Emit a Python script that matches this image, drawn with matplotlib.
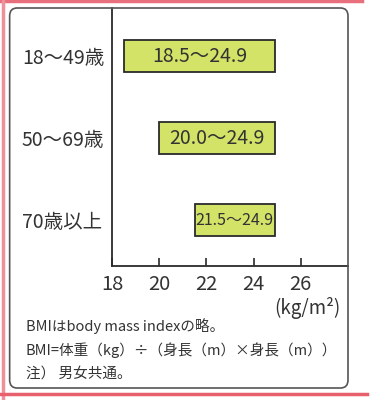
import matplotlib
matplotlib.use("Agg")
import matplotlib.pyplot as plt
from matplotlib.patches import FancyBboxPatch
from matplotlib.lines import Line2D

plt.rcParams['font.family'] = ['Noto Sans CJK JP', 'DejaVu Sans']

# BMI target ranges by age group
age_groups = ["18～49歳", "50～69歳", "70歳以上"]
bmi_low = [18.5, 20.0, 21.5]
bmi_high = [24.9, 24.9, 24.9]
x_ticks = [18, 20, 22, 24, 26]
unit_label = "(kg/m²)"
notes = [
    "BMIはbody mass indexの略。",
    "BMI=体重（kg）÷（身長（m）×身長（m））",
    "注） 男女共通。",
]

text_color = "#333333"
bar_color = "#d2e368"
label_sizes = [14, 14, 11.5]

fig = plt.figure(figsize=(3.71, 4.0), dpi=100)
fig.patch.set_facecolor("white")

# outer red frame lines
fig.add_artist(Line2D([0, 0.975], [0.997, 0.997], color="#e8707c", lw=2.5))
fig.add_artist(Line2D([0.008, 0.008], [0.0, 1.0], color="#f0909a", lw=2.5))
fig.add_artist(Line2D([0.0, 0.99], [0.016, 0.016], color="#e8606c", lw=2.5))

# rounded box around the chart
box = FancyBboxPatch((0.026, 0.03), 0.912, 0.95,
                     boxstyle="round,pad=0,rounding_size=0.02",
                     transform=fig.transFigure, facecolor="none",
                     edgecolor="#555555", lw=1.2)
fig.add_artist(box)

ax = fig.add_axes([0.302, 0.335, 0.636, 0.645])
ax.set_facecolor("none")

ypos = list(range(len(age_groups)))
widths = [h - l for l, h in zip(bmi_low, bmi_high)]
ax.barh(ypos, widths, left=bmi_low, height=0.39, color=bar_color,
        edgecolor="#2a2a2a", linewidth=1.3, zorder=3)

for y, lo, hi, fs in zip(ypos, bmi_low, bmi_high, label_sizes):
    ax.text((lo + hi) / 2, y, f"{lo:.1f}～{hi:.1f}", ha="center", va="center",
            fontsize=fs, color=text_color, zorder=4)

ax.set_xlim(18, 28)
ax.set_ylim(2.555, -0.589)

for side in ["top", "right"]:
    ax.spines[side].set_visible(False)
for side in ["left", "bottom"]:
    ax.spines[side].set_linewidth(1.3)
    ax.spines[side].set_color("#2a2a2a")

ax.set_xticks(x_ticks)
ax.set_xticklabels([str(t) for t in x_ticks], fontsize=14.5, color=text_color)
ax.tick_params(axis="x", direction="in", length=6, width=1.2, pad=6,
               color="#2a2a2a")

ax.set_yticks(ypos)
ax.set_yticklabels(age_groups, fontsize=14, color=text_color, ha="left")
ax.tick_params(axis="y", length=0, pad=65)

fig.text(0.917, 0.23, unit_label, ha="right", va="center", fontsize=13.5,
         color=text_color)

for i, line in enumerate(notes):
    fig.text(0.07, 0.185 - i * 0.06, line, ha="left", va="center",
             fontsize=10.5, color=text_color)

fig.savefig("out.png", dpi=100)
